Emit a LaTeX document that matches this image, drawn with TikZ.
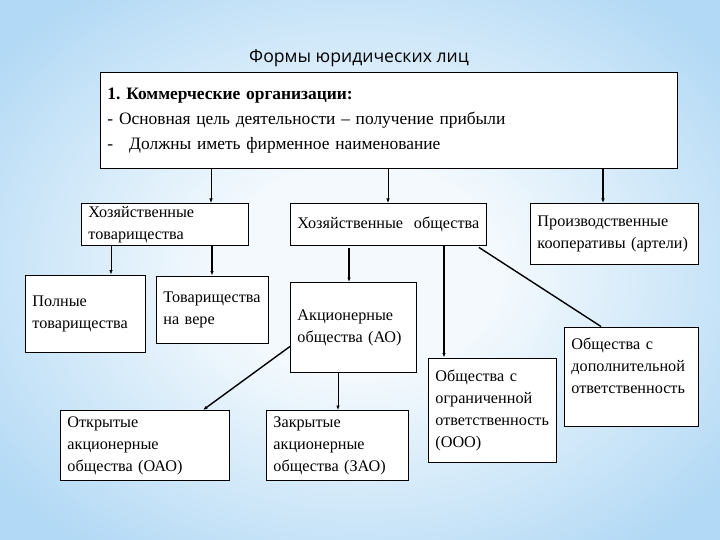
\documentclass[tikz,border=0pt]{standalone}
\usepackage{fontspec}
\setmainfont{Liberation Serif}
\newfontfamily\titlefont{Open Sans}
\usetikzlibrary{arrows.meta}
\definecolor{bgin}{HTML}{F3F9FD}
\definecolor{bgout}{HTML}{B2D9F5}
\pgfdeclareradialshading{slidebg}{\pgfpoint{0bp}{0bp}}{%
  color(0bp)=(bgin); color(10bp)=(bgin); color(32bp)=(bgout); color(50bp)=(bgout)}
\hyphenpenalty=10000
\exhyphenpenalty=10000
\frenchspacing
\tikzset{
  box/.style={draw=black, fill=white, line width=0.9pt, align=left,
              anchor=north west, inner xsep=7pt, inner ysep=0pt,
              font=\fontsize{16.2}{22}\selectfont},
  mainbox/.style={box, font=\fontsize{17.4}{25}\selectfont},
  conn/.style={-{Latex[length=4.5pt,width=3.5pt]}, line width=0.7pt, draw=black},
  thick conn/.style={conn, line width=1.4pt},
  plain conn/.style={line width=1.4pt, draw=black}
}

\begin{document}
\begin{tikzpicture}[x=1pt,y=-1pt]
    % slide background
    \shade[shading=slidebg] (0,0) rectangle (720,540);
    \useasboundingbox (0,0) rectangle (720,540);

    \node[font=\titlefont\fontsize{17.6}{20}\selectfont] (title) at (359,58)
      {Формы юридических лиц};

    % main box
    \node[mainbox, text width=563pt, minimum height=96pt] (main) at (100,72)
      {\textbf{1. Коммерческие организации:}\\
       - Основная цель деятельности – получение прибыли\\
       -\hspace{16pt}Должны иметь фирменное наименование};

    % second row
    \node[box, text width=153pt, minimum height=41.5pt] (ht) at (81,203)
      {Хозяйственные\\товарищества};
    \node[box, text width=182pt, minimum height=41.5pt] (ho) at (290,203)
      {Хозяйственные\ \ общества};
    \node[box, text width=154pt, minimum height=61pt] (pk) at (530,203)
      {Производственные\\кооперативы (артели)};

    % third row
    \node[box, text width=106pt, minimum height=77.5pt] (pt) at (25,274.5)
      {Полные\\товарищества};
    \node[box, text width=98pt, minimum height=67.5pt] (tv) at (156,275.5)
      {Товарищества\\на вере};
    \node[box, text width=112pt, minimum height=90pt] (ao) at (290,282)
      {Акционерные\\общества (АО)};
    \node[box, text width=114pt, minimum height=104pt] (ooo) at (428,357.5)
      {Общества с\\ограниченной\\ответственность\\(ООО)};
    \node[box, text width=120pt, minimum height=99.5pt] (odo) at (564,326.5)
      {Общества с\\дополнительной\\ответственность\\\mbox{}};

    % fourth row
    \node[box, text width=155pt, minimum height=70pt] (oao) at (60,410)
      {Открытые\\акционерные\\общества (ОАО)};
    \node[box, text width=128pt, minimum height=70pt] (zao) at (266,410)
      {Закрытые\\акционерные\\общества (ЗАО)};

    % connector columns
    \coordinate (x1) at (211,0);
    \coordinate (x2) at (388,0);
    \coordinate (x3) at (603,0);
    \coordinate (x4) at (111,0);
    \coordinate (x5) at (212,0);
    \coordinate (x6) at (349,0);
    \coordinate (x7) at (444,0);
    \coordinate (x8) at (338,0);
    \coordinate (x9) at (601,0);
    \coordinate (x10) at (203,0);

    % connectors
    \draw[conn] (main.south -| x1) -- (ht.north -| x1);
    \draw[conn] (main.south -| x2) -- (ho.north -| x2);
    \draw[thick conn] (main.south -| x3) -- (pk.north -| x3);
    \draw[conn] (ht.south -| x4) -- (pt.north -| x4);
    \draw[thick conn] (ht.south -| x5) -- (tv.north -| x5);
    \draw[thick conn] ([yshift=-3pt]ho.south -| x6) -- (ao.north -| x6);
    \draw[thick conn] (ho.south -| x7) -- (ooo.north -| x7);
    \draw[plain conn] ([xshift=-8pt,yshift=-2pt]ho.south east) -- (odo.north -| x9);
    \draw[thick conn] ([yshift=-19pt]ao.west) -- (oao.north -| x10);
    \draw[conn] (ao.south -| x8) -- (zao.north -| x8);
\end{tikzpicture}
\end{document}
